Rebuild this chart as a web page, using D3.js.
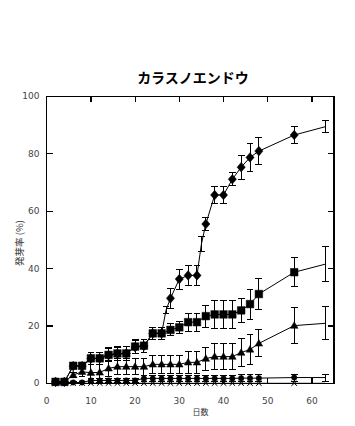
<!DOCTYPE html>
<html>
<head>
<meta charset="utf-8">
<script src="https://cdn.jsdelivr.net/npm/d3@7"></script>
<style>body{margin:0;background:#fff;}</style>
</head>
<body>
<div id="chart"></div>
<script>
// germination data
const title = 'カラスノエンドウ';
const xLabel = '日数';
const yLabel = '発芽率 (%)';
const xTicks = [0, 10, 20, 30, 40, 50, 60];
const yTicks = [0, 20, 40, 60, 80, 100];

const days = [2, 4, 6, 8, 10, 12, 14, 16, 18, 20, 22, 24, 26, 28, 30, 32, 34, 36, 38, 40, 42, 44, 46, 48, 56, 63];
const diamondDays = [2, 4, 6, 8, 10, 12, 14, 16, 18, 20, 22, 24, 26, 27, 28, 30, 32, 34, 35, 36, 38, 40, 42, 44, 46, 48, 56, 63];
const unmarkedDays = [27, 35, 63];

const diamondVals = [0.5, 0.5, 6, 6, 8.6, 8.7, 9.8, 10.3, 10.4, 12.6, 13, 17.4, 17.4, 25.5, 29.6, 36.3, 37.6, 37.6, 48.5, 55.5, 65.6, 65.6, 71.1, 75.3, 78.7, 80.9, 86.5, 89.4];
const diamondErr = [0.5, 0.5, 1, 1, 2, 2, 2.3, 2.3, 2.3, 2.3, 2.3, 2.2, 2.2, 1.2, 3.4, 3.5, 3.5, 3.5, 2.6, 2.1, 3, 3, 2.3, 4.2, 4.8, 4.6, 2.9, 2];

const squareVals = [0.5, 0.5, 6.1, 6.1, 8.7, 8.7, 9.9, 10.4, 10.4, 12.8, 13.1, 17.4, 17.4, 18.6, 19.5, 21.3, 21.3, 23.4, 24, 24, 24, 25.4, 27.6, 31.1, 38.7, 41.5];
const squareErr = [0.5, 0.5, 1, 1, 2.1, 2.1, 2.4, 2.4, 2.4, 2.3, 2.3, 2.2, 2.2, 2.1, 2.2, 3.1, 3.1, 3.8, 4.8, 4.8, 4.8, 4.1, 5.2, 5.5, 5.1, 6];

const triangleVals = [0.5, 0.5, 2.9, 4, 3.7, 3.8, 5.2, 5.8, 5.8, 5.8, 5.8, 6.6, 6.6, 6.6, 6.6, 7.3, 7.3, 8.6, 9.3, 9.3, 9.3, 10.7, 11.8, 13.9, 20.1, 20.9];
const triangleErr = [0.3, 0.3, 1, 1.5, 2.8, 2.8, 2.8, 2.8, 2.8, 2.8, 3, 3.2, 3.2, 3.2, 3.2, 3.8, 3.8, 4, 4.6, 4.6, 4.6, 4.9, 5.2, 4.7, 6.3, 5.8];

const circleVals = [0.3, 0.3, 0.3, 0.3, 1, 1, 1, 1, 1, 1, 1.7, 1.7, 1.7, 1.7, 1.7, 1.7, 1.7, 1.7, 1.7, 1.7, 1.7, 1.8, 1.8, 1.8, 2, 2];
const circleErr = [0.3, 0.3, 0.3, 0.3, 0.8, 0.8, 0.8, 0.8, 0.8, 0.8, 1, 1, 1, 1, 1, 1, 1, 1, 1, 1, 1, 1.2, 1.2, 1.2, 1.2, 1.2];

const crossVals = [0, 0, 0, 0, 0, 0, 0, 0, 0, 0, 0, 0, 0, 0, 0, 0, 0, 0, 0, 0, 0, 0, 0, 0, 0, 0];

const W = 355, H = 426;
const margin = { top: 96.3, right: 21, bottom: 42.7, left: 46.7 };

const svg = d3.select('#chart')
  .append('svg')
  .attr('width', W)
  .attr('height', H);

const x = d3.scaleLinear().domain([0, 65]).range([margin.left, W - margin.right]);
const y = d3.scaleLinear().domain([0, 100]).range([H - margin.bottom, margin.top]);

const zip = (ds, vs, es) => ds.map((d, i) => ({ day: d, v: vs[i], e: es ? es[i] : 0 }));

const series = [
  { name: 'cross', data: zip(days, crossVals, null) },
  { name: 'circle', data: zip(days, circleVals, circleErr) },
  { name: 'triangle', data: zip(days, triangleVals, triangleErr) },
  { name: 'square', data: zip(days, squareVals, squareErr) },
  { name: 'diamond', data: zip(diamondDays, diamondVals, diamondErr) }
];

// frame + inward ticks
const x0 = x(0), x1 = x(65), yB = y(0), yT = y(100);
svg.append('rect')
  .attr('x', x0).attr('y', yT)
  .attr('width', x1 - x0).attr('height', yB - yT)
  .attr('fill', 'none').attr('stroke', '#000').attr('stroke-width', 1.2)
  .attr('shape-rendering', 'crispEdges');

const tickG = svg.append('g').attr('stroke', '#000').attr('stroke-width', 1.2)
  .attr('shape-rendering', 'crispEdges');
xTicks.filter(t => t > 0).forEach(t => {
  tickG.append('line').attr('x1', x(t)).attr('x2', x(t)).attr('y1', yT).attr('y2', yT + 6);
  tickG.append('line').attr('x1', x(t)).attr('x2', x(t)).attr('y1', yB).attr('y2', yB - 5);
});
yTicks.filter(t => t > 0 && t < 100).forEach(t => {
  tickG.append('line').attr('x1', x0).attr('x2', x0 + 6).attr('y1', y(t)).attr('y2', y(t));
  tickG.append('line').attr('x1', x1).attr('x2', x1 - 6).attr('y1', y(t)).attr('y2', y(t));
});

svg.append('g').selectAll('text')
  .data(yTicks).enter()
  .append('text')
  .attr('x', 39.5).attr('y', d => y(d)).attr('dy', '0.35em')
  .attr('text-anchor', 'end')
  .attr('font-family', 'DejaVu Sans').attr('font-size', '9px')
  .attr('fill', '#444')
  .text(d => d);

svg.append('g').selectAll('text')
  .data(xTicks).enter()
  .append('text')
  .attr('x', d => x(d)).attr('y', 403.5)
  .attr('text-anchor', 'middle')
  .attr('font-family', 'DejaVu Sans').attr('font-size', '9px')
  .attr('fill', '#444')
  .text(d => d);

svg.append('text')
  .attr('x', 193).attr('y', 83)
  .attr('text-anchor', 'middle')
  .attr('font-family', 'Noto Sans CJK JP').attr('font-size', '14px')
  .attr('font-weight', 'bold')
  .attr('fill', '#000')
  .text(title);

svg.append('text')
  .attr('x', 200.5).attr('y', 414.5)
  .attr('text-anchor', 'middle')
  .attr('font-family', 'Noto Sans CJK JP').attr('font-size', '8px')
  .attr('fill', '#333')
  .text(xLabel);

svg.append('text')
  .attr('transform', 'translate(23,243) rotate(-90)')
  .attr('text-anchor', 'middle')
  .attr('font-family', 'Noto Sans CJK JP').attr('font-size', '9.5px')
  .attr('fill', '#333')
  .text(yLabel);

// markers
const markers = {
  diamond: 'M0,-4.8L4.1,0L0,4.8L-4.1,0Z',
  square: 'M-3.8,-3.8H3.8V3.8H-3.8Z',
  triangle: 'M0,-3.9L3.8,2.7L-3.8,2.7Z',
  circle: d3.symbol(d3.symbolCircle, Math.PI * 2.7 * 2.7)(),
  cross: 'M-2.8,-2.5L2.8,2.5M-2.8,2.5L2.8,-2.5'
};

const line = d3.line().x(d => x(d.day)).y(d => y(d.v));

series.forEach(s => {
  const g = svg.append('g');
  g.append('path')
    .datum(s.data)
    .attr('d', line)
    .attr('fill', 'none').attr('stroke', '#000').attr('stroke-width', 1);

  const eb = s.data.filter(d => d.e > 0);
  const cap = 3.4;
  g.selectAll('.eb').data(eb).enter()
    .append('path')
    .attr('d', d => {
      const cx = x(d.day), t = y(d.v + d.e), b = y(d.v - d.e);
      return `M${cx},${t}V${b}M${cx - cap},${t}H${cx + cap}M${cx - cap},${b}H${cx + cap}`;
    })
    .attr('fill', 'none').attr('stroke', '#000').attr('stroke-width', 1)
    .attr('shape-rendering', 'crispEdges');

  g.selectAll('.mk').data(s.data.filter(d => !unmarkedDays.includes(d.day))).enter()
    .append('path')
    .attr('transform', d => `translate(${x(d.day)},${y(d.v)})`)
    .attr('d', markers[s.name])
    .attr('fill', s.name === 'cross' ? 'none' : '#000')
    .attr('stroke', '#000').attr('stroke-width', s.name === 'cross' ? 1 : 0.5);
});
</script>
</body>
</html>
